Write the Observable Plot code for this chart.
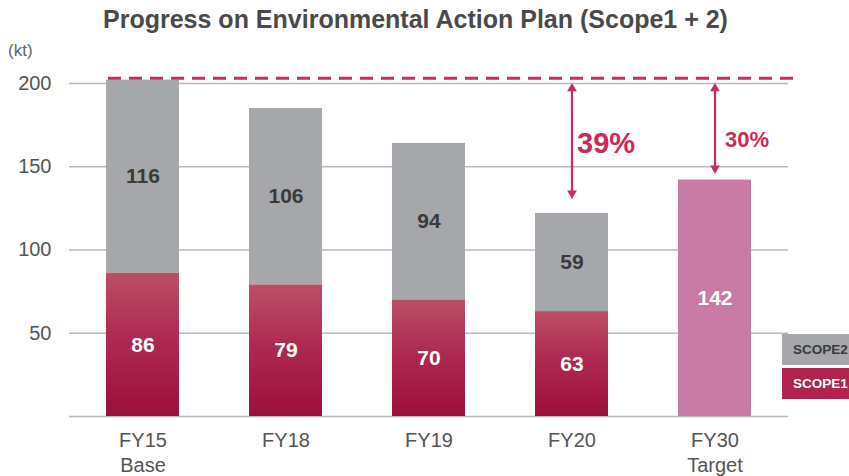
<!DOCTYPE html>
<html><head><meta charset="utf-8">
<script src="https://cdn.jsdelivr.net/npm/d3@7"></script>
<script src="https://cdn.jsdelivr.net/npm/@observablehq/plot@0.6"></script>
<style>
body{margin:0;background:#fff;font-family:"Liberation Sans",Arial,sans-serif;}
#wrap{position:relative;width:849px;height:476px;overflow:hidden;}
#title{height:40px;line-height:39px;font-size:25px;font-weight:bold;color:#4a4a4a;text-align:center;padding-right:18px;white-space:nowrap;}
#unit{position:absolute;left:8px;top:41px;font-size:17px;line-height:20px;color:#666;}
.leg{position:absolute;left:782px;width:80px;height:31px;line-height:31px;font-size:13.5px;font-weight:bold;padding-left:11px;box-sizing:border-box;}
#chart svg{display:block;}
</style></head>
<body>
<div id="wrap">
  <div id="title">Progress on Environmental Action Plan (Scope1 + 2)</div>
  <div id="chart"></div>
  <div id="unit">(kt)</div>
  <div class="leg" id="leg2" style="top:334px;background:#a5a7aa;color:#3a3a3a;">SCOPE2</div>
  <div class="leg" id="leg1" style="top:368px;background:#b0244f;color:#fff;">SCOPE1</div>
</div>
<script>
// ---- data ----
const categories = ["FY15\nBase", "FY18", "FY19", "FY20", "FY30\nTarget"];
const scope1 = [86, 79, 70, 63, null];
const scope2 = [116, 106, 94, 59, null];
const target = [null, null, null, null, 142];
const baseTotal = 202;
const yTicks = [50, 100, 150, 200];
const gapCats = ["FY20", "FY30\nTarget"];
const gapLabels = ["39%", "30%"];
const gapTop = [200, 200];
const gapBottom = [131, 146];
const gapLabelY = [164, 166];

// ---- tables built from the arrays ----
const segments = [];
categories.forEach((c, i) => {
  if (scope1[i] != null) segments.push({cat: c, series: "SCOPE1", y1: 0, y2: scope1[i], value: scope1[i]});
  if (scope2[i] != null) segments.push({cat: c, series: "SCOPE2", y1: scope1[i], y2: scope1[i] + scope2[i], value: scope2[i]});
  if (target[i] != null) segments.push({cat: c, series: "TARGET", y1: 0, y2: target[i], value: target[i]});
});
const gaps = gapCats.map((c, i) => ({cat: c, top: gapTop[i], bottom: gapBottom[i], label: gapLabels[i], ly: gapLabelY[i]}));
const s1 = segments.filter(d => d.series === "SCOPE1");
const s2 = segments.filter(d => d.series === "SCOPE2");
const tg = segments.filter(d => d.series === "TARGET");

const accent = "#cc2a5a";
const mid = d => (d.y1 + d.y2) / 2;

const chart = Plot.plot({
  width: 849,
  height: 436,
  marginLeft: 69,
  marginRight: 61,
  marginTop: 43,
  marginBottom: 60,
  style: {fontFamily: "'Liberation Sans', Arial, sans-serif", background: "#fff"},
  x: {type: "band", domain: categories, paddingInner: 0.49, paddingOuter: 0.245, label: null},
  y: {domain: [0, 200], label: null},
  marks: [
    () => {
      const defs = d3.create("svg:defs");
      const g = defs.append("linearGradient").attr("id", "s1grad")
        .attr("x1", 0).attr("x2", 0).attr("y1", 0).attr("y2", 1);
      g.append("stop").attr("offset", "0%").attr("stop-color", "#bb4f66");
      g.append("stop").attr("offset", "45%").attr("stop-color", "#ae2a52");
      g.append("stop").attr("offset", "100%").attr("stop-color", "#9c0f3b");
      return defs.node();
    },
    Plot.ruleY([0, ...yTicks], {stroke: "#b9b9b9", strokeWidth: 1.7}),
    Plot.barY(s2, {x: "cat", y1: "y1", y2: "y2", fill: "#a5a7aa"}),
    Plot.barY(s1, {x: "cat", y1: "y1", y2: "y2", fill: "url(#s1grad)"}),
    Plot.barY(tg, {x: "cat", y1: "y1", y2: "y2", fill: "#c97ba6"}),
    Plot.text(s2, {x: "cat", y: mid, text: d => String(d.value), fill: "#3a3a3a", fontSize: 21, fontWeight: "bold"}),
    Plot.text(s1, {x: "cat", y: mid, text: d => String(d.value), fill: "#fff", fontSize: 21, fontWeight: "bold"}),
    Plot.text(tg, {x: "cat", y: mid, text: d => String(d.value), fill: "#fff", fontSize: 21, fontWeight: "bold"}),
    Plot.ruleY([baseTotal], {stroke: accent, strokeWidth: 3, strokeDasharray: "13,8", insetLeft: 39, insetRight: -5, dy: -2}),
    Plot.ruleX(gaps, {x: "cat", y1: "top", y2: "bottom", stroke: accent, strokeWidth: 2.2, insetTop: 4, insetBottom: 4}),
    Plot.dot(gaps, {x: "cat", y: "top", symbol: "triangle", r: 3.6, fill: accent, dy: 5}),
    Plot.dot(gaps, {x: "cat", y: "bottom", symbol: "triangle", r: 3.6, fill: accent, rotate: 180, dy: -5}),
    Plot.text(gaps.slice(0, 1), {x: "cat", y: "ly", text: "label", textAnchor: "start", dx: 5, fontSize: 29, fontWeight: "bold", fill: accent}),
    Plot.text(gaps.slice(1), {x: "cat", y: "ly", text: "label", textAnchor: "start", dx: 10, fontSize: 22, fontWeight: "bold", fill: accent}),
    Plot.axisY(yTicks, {tickSize: 0, tickPadding: 18, fontSize: 20, fill: "#555", label: null}),
    Plot.axisX({tickSize: 0, tickPadding: 13, fontSize: 20, fill: "#555", lineHeight: 1.25, label: null})
  ]
});
document.getElementById("chart").appendChild(chart);
</script>
</body></html>
